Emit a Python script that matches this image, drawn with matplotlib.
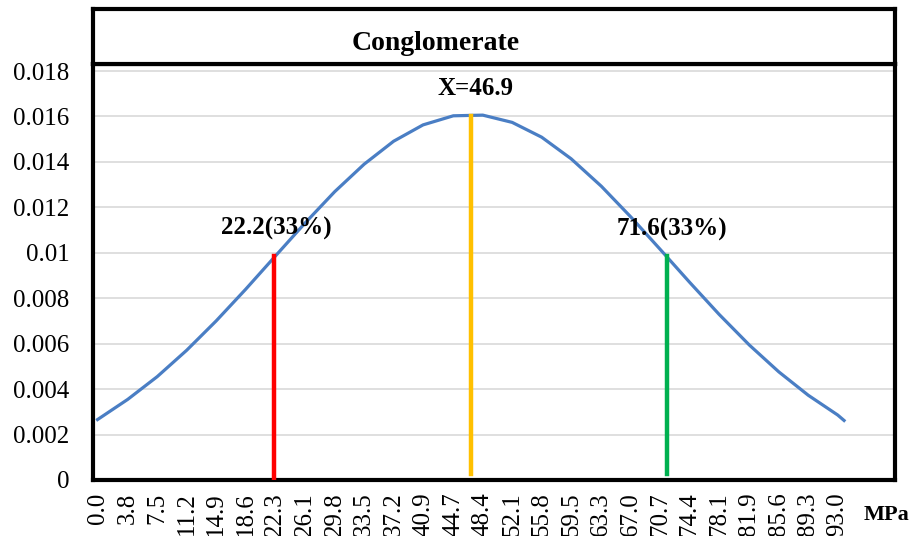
import numpy as np
import matplotlib
matplotlib.use("Agg")
import matplotlib.pyplot as plt

plt.rcParams['font.family'] = ['Liberation Serif', 'DejaVu Serif']

# x category labels (MPa) and the curve
x_labels = ["0.0", "3.8", "7.5", "11.2", "14.9", "18.6", "22.3", "26.1", "29.8",
            "33.5", "37.2", "40.9", "44.7", "48.4", "52.1", "55.8", "59.5", "63.3",
            "67.0", "70.7", "74.4", "78.1", "81.9", "85.6", "89.3", "93.0"]
x_vals = [0.0, 3.8, 7.5, 11.2, 14.9, 18.6, 22.3, 26.1, 29.8, 33.5, 37.2, 40.9, 44.7,
          48.4, 52.1, 55.8, 59.5, 63.3, 67.0, 70.7, 74.4, 78.1, 81.9, 85.6, 89.3, 93.0, 93.8]
y_vals = [0.00266, 0.00355, 0.00455, 0.00571, 0.00700, 0.00839, 0.00984, 0.01132,
          0.01269, 0.01390, 0.01491, 0.01563, 0.01603, 0.01606, 0.01574, 0.01509,
          0.01414, 0.01293, 0.01158, 0.01015, 0.00870, 0.00729, 0.00594, 0.00476,
          0.00373, 0.00286, 0.00262]

mean_val = 46.9
low_val = 22.2
high_val = 71.6
low_y = 0.00984
mean_y = 0.01602
high_y = 0.00988

W, H = 918, 536
fig = plt.figure(figsize=(W / 100, H / 100), dpi=100)

# plot area in pixel terms
left, right, top, bottom = 93, 895, 64, 480
ax = fig.add_axes([left / W, 1 - bottom / H, (right - left) / W, (bottom - top) / H])

ax.plot(x_vals, y_vals, color="#4A7EC4", lw=2.3, zorder=3)
ax.plot([low_val, low_val], [0, low_y], color="#FF0000", lw=3.2, zorder=4)
ax.plot([mean_val, mean_val], [0.00025, mean_y], color="#FFC000", lw=3.2, zorder=4)
ax.plot([high_val, high_val], [0.00025, high_y], color="#00B050", lw=3.2, zorder=4)

ax.text(low_val + 0.3, 0.01107, "22.2(33%)", ha="center", va="center",
        fontsize=18, fontweight="bold")
ax.text(high_val + 0.6, 0.01103, "71.6(33%)", ha="center", va="center",
        fontsize=18, fontweight="bold")
ax.text(mean_val + 0.6, 0.01725, "X=46.9", ha="center", va="center",
        fontsize=18, fontweight="bold")

ax.set_xlim(-0.57, 100.2)
ax.set_ylim(0, 0.01831)
yt = np.arange(0, 0.0181, 0.002)
ax.set_yticks(yt)
ax.set_yticklabels(["0", "0.002", "0.004", "0.006", "0.008", "0.01",
                    "0.012", "0.014", "0.016", "0.018"])
ax.set_xticks(x_vals[:len(x_labels)])
ax.set_xticklabels(x_labels, rotation=90, va="top")
ax.tick_params(axis="both", length=0, labelsize=18)
ax.tick_params(axis="x", pad=9)
ax.tick_params(axis="y", pad=17)
ax.grid(axis="y", color="#D9D9D9", lw=1.2)
ax.set_axisbelow(True)
for s in ax.spines.values():
    s.set_color("black")
    s.set_linewidth(3)

# title box on top
tax = fig.add_axes([left / W, 1 - top / H, (right - left) / W, (top - 9) / H])
tax.set_xticks([])
tax.set_yticks([])
for s in tax.spines.values():
    s.set_color("black")
    s.set_linewidth(3)
fig.text(436 / W, 1 - 43 / H, "Conglomerate", ha="center", va="center",
         fontsize=20, fontweight="bold")

fig.text(886 / W, 1 - 515 / H, "MPa", ha="center", va="center",
         fontsize=16, fontweight="bold")

fig.savefig("out.png", dpi=100)
